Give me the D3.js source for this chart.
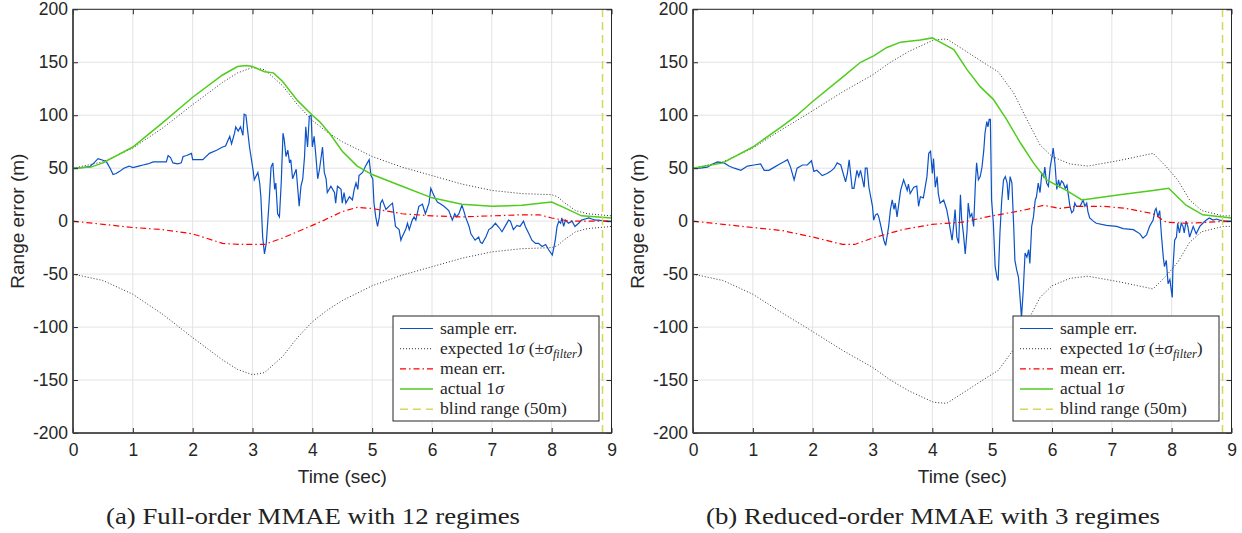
<!DOCTYPE html>
<html>
<head>
<meta charset="utf-8">
<script src="https://cdn.jsdelivr.net/npm/d3@7"></script>
<style>
body{margin:0;background:#fff;}
svg{display:block;}
</style>
</head>
<body>
<svg id="fig" width="1242" height="533"></svg>
<script>
// valeurs (temps en s, erreur en m)
var xTicks = [0,1,2,3,4,5,6,7,8,9];
var yTicks = [-200,-150,-100,-50,0,50,100,150,200];
var blindRange = 8.85;
var captions = ["(a) Full-order MMAE with 12 regimes", "(b) Reduced-order MMAE with 3 regimes"];
var legendLabels = ["sample err.", "expected", "mean err.", "actual", "blind range (50m)"];

// (a) full-order
var sampleA = [[0,50],[0.15,50.5],[0.28,51.5],[0.35,55],[0.42,59],[0.5,57.5],[0.56,56],[0.62,50],[0.67,44],[0.72,45],[0.78,47],[0.85,50],[0.94,52],[1.0,50.5],[1.1,52],[1.17,53],[1.25,54],[1.34,56],[1.45,56],[1.56,56],[1.59,62],[1.63,60],[1.67,55],[1.75,54],[1.81,55],[1.84,61],[1.9,62],[1.98,64],[2.0,58],[2.1,58],[2.17,58],[2.28,64],[2.4,67],[2.5,70],[2.55,71],[2.58,75],[2.62,80],[2.65,73],[2.7,83],[2.72,89],[2.76,85],[2.8,89],[2.84,81],[2.86,101],[2.89,100],[2.95,70],[3.01,48],[3.03,39],[3.09,46],[3.12,36],[3.14,23],[3.17,-15],[3.2,-31],[3.23,-21],[3.28,20],[3.31,51],[3.34,55],[3.37,30],[3.39,36],[3.42,7],[3.45,4],[3.48,36],[3.51,83],[3.53,77],[3.56,61],[3.59,67],[3.62,55],[3.64,58],[3.67,40],[3.73,49],[3.78,14],[3.81,33],[3.84,40],[3.87,61],[3.89,89],[3.92,70],[3.95,99],[3.98,100],[4.0,70],[4.03,80],[4.06,61],[4.09,40],[4.12,49],[4.17,70],[4.2,46],[4.23,40],[4.25,27],[4.31,33],[4.37,27],[4.39,17],[4.42,33],[4.48,30],[4.5,17],[4.53,27],[4.56,17],[4.62,23],[4.67,20],[4.7,30],[4.73,36],[4.76,30],[4.78,43],[4.84,46],[4.89,52],[4.92,55],[4.95,58],[4.98,43],[5.01,40],[5.03,17],[5.06,4],[5.09,-5],[5.12,4],[5.14,17],[5.17,20],[5.23,11],[5.28,14],[5.34,17],[5.37,4],[5.39,-5],[5.45,-8],[5.48,-18],[5.5,-15],[5.56,-8],[5.59,-2],[5.62,-8],[5.67,1],[5.7,4],[5.73,1],[5.78,14],[5.84,16],[5.89,7],[5.95,17],[5.98,31],[6.01,27],[6.05,22],[6.09,18],[6.15,16],[6.2,14],[6.28,10],[6.34,1],[6.38,7],[6.41,4],[6.45,7],[6.5,15],[6.53,10],[6.56,4],[6.62,-5],[6.65,-12],[6.72,-18],[6.78,-15],[6.81,-20],[6.84,-21],[6.9,-15],[6.95,-8],[7.0,-6],[7.06,-2],[7.12,-6],[7.17,-10],[7.23,-4],[7.28,1],[7.31,0],[7.36,-8],[7.42,-4],[7.47,-5],[7.53,0],[7.56,-5],[7.62,-12],[7.67,-18],[7.73,-21],[7.78,-21],[7.84,-24],[7.9,-22],[7.95,-27],[8.01,-32],[8.04,-24],[8.06,-18],[8.09,-5],[8.12,0],[8.15,-2],[8.17,3],[8.2,-5],[8.23,1],[8.28,-2],[8.34,0],[8.39,-5],[8.45,-2],[8.5,1],[8.56,2],[8.62,3],[8.67,2],[8.73,1],[8.78,1],[8.89,0],[9.0,0]];
var expectedA = [[0,50],[0.5,56],[1,69],[1.5,88],[2,110],[2.5,131],[2.75,140],[3,145],[3.2,143],[3.5,128],[3.75,110],[4,95],[4.25,84],[4.5,75],[5,61],[5.5,51],[6,43],[6.5,35],[7,29],[7.5,26],[8,25],[8.1,23],[8.2,18],[8.4,10],[8.6,7],[9,5]];
var meanA = [[0,0],[0.5,-3],[1,-6],[1.5,-8],[2,-12],[2.5,-21],[2.8,-22],[3.2,-22],[3.5,-16],[4,-4],[4.2,1],[4.5,9],[4.75,13],[5,12],[5.5,7],[6,5],[6.5,4],[7,5],[7.5,6],[7.8,6],[8,3],[8.3,0],[9,0]];
var actualA = [[0,50],[0.3,51],[0.5,55],[1,70],[1.5,93],[2,117],[2.5,138],[2.75,146],[2.9,147],[3.0,146],[3.2,141],[3.35,140],[3.5,132],[3.75,114],[4,100],[4.12,94],[4.3,82],[4.5,66],[4.75,52],[5,44],[5.5,33],[6,22],[6.5,16],[7,14],[7.5,15],[8,18],[8.2,13],[8.5,5],[9,3]];

// (b) reduced-order
var sampleB = [[0,50],[0.12,50],[0.24,51],[0.33,54],[0.41,56],[0.52,55],[0.6,52],[0.69,50],[0.8,48],[0.91,52],[1.02,53],[1.13,54],[1.19,48],[1.27,48],[1.36,51],[1.45,54],[1.52,56],[1.58,58],[1.63,51],[1.69,39],[1.74,50],[1.83,53],[1.91,53],[1.98,57],[2.02,47],[2.07,48],[2.16,43],[2.24,45],[2.3,47],[2.36,50],[2.41,55],[2.47,53],[2.55,37],[2.58,45],[2.61,58],[2.66,31],[2.69,31],[2.74,48],[2.77,42],[2.8,48],[2.86,32],[2.88,50],[2.91,50],[2.94,32],[3.0,14],[3.02,1],[3.05,6],[3.08,7],[3.1,5],[3.13,-2],[3.19,-18],[3.22,-23],[3.27,-5],[3.3,11],[3.33,20],[3.36,11],[3.38,17],[3.41,4],[3.47,29],[3.52,39],[3.58,29],[3.6,35],[3.63,26],[3.69,32],[3.74,33],[3.77,14],[3.8,23],[3.85,22],[3.91,42],[3.94,64],[3.97,66],[4.0,45],[4.02,59],[4.05,32],[4.08,42],[4.1,26],[4.13,17],[4.19,20],[4.24,11],[4.27,2],[4.3,-8],[4.33,-18],[4.36,-2],[4.38,11],[4.41,-15],[4.44,-21],[4.47,25],[4.49,2],[4.52,-12],[4.55,-31],[4.58,-9],[4.6,17],[4.63,4],[4.66,7],[4.69,-5],[4.72,36],[4.74,55],[4.77,39],[4.8,42],[4.83,51],[4.86,67],[4.88,83],[4.91,94],[4.93,89],[4.95,96],[4.97,96],[4.99,20],[5.02,-2],[5.05,-43],[5.08,-53],[5.1,-56],[5.13,-11],[5.16,20],[5.19,39],[5.22,42],[5.25,36],[5.27,20],[5.3,42],[5.33,36],[5.36,-5],[5.38,-37],[5.41,-46],[5.44,-53],[5.47,-75],[5.49,-91],[5.52,-65],[5.55,-30],[5.58,-34],[5.61,-27],[5.63,-40],[5.66,-5],[5.69,4],[5.72,20],[5.74,23],[5.77,36],[5.8,27],[5.83,45],[5.86,42],[5.88,51],[5.91,36],[5.94,33],[5.97,51],[6.0,61],[6.02,69],[6.05,54],[6.08,30],[6.11,39],[6.13,33],[6.16,38],[6.19,36],[6.22,31],[6.25,34],[6.3,14],[6.33,8],[6.36,10],[6.38,17],[6.41,14],[6.47,14],[6.52,20],[6.55,14],[6.58,17],[6.6,9],[6.63,3],[6.69,0],[6.74,-2],[6.91,-4],[7.08,-5],[7.19,-7],[7.36,-8],[7.47,-12],[7.52,-16],[7.58,-13],[7.63,-5],[7.69,1],[7.72,10],[7.74,12],[7.77,4],[7.8,10],[7.83,-14],[7.86,-34],[7.88,-43],[7.91,-37],[7.94,-59],[7.97,-55],[8.0,-68],[8.01,-72],[8.02,-46],[8.05,-18],[8.08,-15],[8.1,-2],[8.13,-11],[8.16,-2],[8.19,-5],[8.21,-11],[8.24,0],[8.27,-5],[8.3,-15],[8.33,-10],[8.36,-5],[8.41,-12],[8.47,-5],[8.52,-2],[8.58,1],[8.63,3],[8.69,1],[8.75,2],[8.8,1],[8.9,0],[9.0,0]];
var expectedB = [[0,50],[0.5,56],[1,69],[1.5,87],[1.88,100],[2.5,122],[3,138],[3.3,150],[3.6,160],[4.02,171],[4.24,172],[4.6,159],[4.9,148],[5.1,141],[5.36,121],[5.58,96],[5.8,72],[6,61],[6.3,54],[6.6,52],[7.1,57],[7.69,64],[7.9,52],[8.1,39],[8.3,20],[8.5,10],[8.86,5],[9,5]];
var meanB = [[0,0],[0.5,-3],[1,-6],[1.5,-9],[2,-15],[2.5,-22],[2.7,-22],[3,-16],[3.5,-8],[4,-3],[4.5,-1],[5,5],[5.5,10],[5.86,15],[6.13,12],[6.41,14],[6.86,14],[7.24,12],[7.69,7],[7.91,-1],[8.24,-2],[9,0]];
var actualB = [[0,50],[0.5,55],[1,70],[1.5,90],[1.74,100],[2,113],[2.5,136],[2.8,150],[3.02,156],[3.24,164],[3.47,169],[3.8,171],[4,173],[4.1,170],[4.36,162],[4.58,143],[4.8,127],[5.02,115],[5.24,96],[5.47,74],[5.69,55],[5.91,39],[6.24,29],[6.5,20],[7.13,25],[7.69,29],[7.95,31],[8.24,15],[8.52,6],[9,3]];

var svg = d3.select("#fig");
var sans = "Liberation Sans, Arial, Helvetica, sans-serif";
var serif = "Liberation Serif, DejaVu Serif, Times New Roman, serif";
var axisCol = "#262626";

var yScale = d3.scaleLinear().domain([-200, 200]).range([433, 9.3]);

var styles = [
	{stroke: "#0b52c8", width: 1.2, dash: null},
	{stroke: "#333", width: 1, dash: "1,2"},
	{stroke: "#ff0000", width: 1.2, dash: "6,3,1.5,3"},
	{stroke: "#4fcc1c", width: 1.5, dash: null},
	{stroke: "#d6d65a", width: 1.5, dash: "8,5"}
];

// taille de police serif ajustée pour que "blind range (50m)" fasse ~127 px
var probe = svg.append("text").attr("font-family", serif).attr("font-size", 20).text(legendLabels[4]);
var legendSize = 20 * 127 / probe.node().getComputedTextLength();
probe.remove();

function drawPanel(x0, x1, sample, expected, mean, actual, caption, capX, capW) {
	var xScale = d3.scaleLinear().domain([0, 9]).range([x0, x1]);
	var g = svg.append("g");

	// grille
	g.selectAll(".gx").data(xTicks).enter().append("line")
		.attr("x1", d => xScale(d)).attr("x2", d => xScale(d))
		.attr("y1", yScale(-200)).attr("y2", yScale(200))
		.attr("stroke", "#e3e3e3");
	g.selectAll(".gy").data(yTicks).enter().append("line")
		.attr("y1", d => yScale(d)).attr("y2", d => yScale(d))
		.attr("x1", x0).attr("x2", x1)
		.attr("stroke", "#e3e3e3");

	var line = d3.line().x(d => xScale(d[0])).y(d => yScale(d[1]));
	function curve(data, s) {
		var p = g.append("path").datum(data).attr("d", line)
			.attr("fill", "none").attr("stroke", s.stroke).attr("stroke-width", s.width);
		if (s.dash) p.attr("stroke-dasharray", s.dash);
	}
	curve(sample, styles[0]);
	curve(expected, styles[1]);
	curve(expected.map(d => [d[0], -d[1]]), styles[1]);
	curve(mean, styles[2]);
	curve(actual, styles[3]);

	g.append("line")
		.attr("x1", xScale(blindRange)).attr("x2", xScale(blindRange))
		.attr("y1", yScale(-200)).attr("y2", yScale(200))
		.attr("stroke", styles[4].stroke).attr("stroke-width", styles[4].width)
		.attr("stroke-dasharray", styles[4].dash);

	// axes, ticks vers l'intérieur
	var ax = [
		g.append("g").attr("transform", "translate(0,433)")
			.call(d3.axisBottom(xScale).tickValues(xTicks).tickSize(-5).tickPadding(11).tickFormat(d => String(d))),
		g.append("g").attr("transform", "translate(0,9.3)")
			.call(d3.axisTop(xScale).tickValues(xTicks).tickSize(-5).tickFormat("")),
		g.append("g").attr("transform", `translate(${x0},0)`)
			.call(d3.axisLeft(yScale).tickValues(yTicks).tickSize(-5).tickPadding(5).tickFormat(d => String(d))),
		g.append("g").attr("transform", `translate(${x1},0)`)
			.call(d3.axisRight(yScale).tickValues(yTicks).tickSize(-5).tickFormat(""))
	];
	ax.forEach(function(a) {
		a.select(".domain").remove();
		a.attr("color", axisCol).attr("font-family", sans).attr("font-size", 17.5);
		a.selectAll("text").attr("fill", axisCol);
	});

	g.append("rect").attr("x", x0).attr("y", yScale(200))
		.attr("width", x1 - x0).attr("height", yScale(-200) - yScale(200))
		.attr("fill", "none").attr("stroke", axisCol).attr("stroke-width", 1);
	g.append("line").attr("x1", x0).attr("x2", x0).attr("y1", yScale(200)).attr("y2", yScale(-200))
		.attr("stroke", "#444").attr("stroke-width", 1.6);
	g.append("line").attr("x1", x0).attr("x2", x1).attr("y1", yScale(-200)).attr("y2", yScale(-200))
		.attr("stroke", "#444").attr("stroke-width", 1.6);

	// libellés
	g.append("text")
		.attr("x", (x0 + x1) / 2).attr("y", 483)
		.attr("text-anchor", "middle")
		.attr("font-family", sans).attr("font-size", 19).attr("fill", axisCol)
		.text("Time (sec)");
	g.append("text")
		.attr("transform", `translate(${x0 - 49},${yScale(0)}) rotate(-90)`)
		.attr("text-anchor", "middle")
		.attr("font-family", sans).attr("font-size", 19).attr("fill", axisCol)
		.text("Range error (m)");

	// légende
	var lg = g.append("g").attr("transform", `translate(${x0 + 320},316)`);
	lg.append("rect").attr("width", 206).attr("height", 105)
		.attr("fill", "#fff").attr("stroke", axisCol).attr("stroke-width", 1);
	styles.forEach(function(s, i) {
		var yy = 12.5 + i * 20.2;
		var l = lg.append("line").attr("x1", 7).attr("x2", 40).attr("y1", yy).attr("y2", yy)
			.attr("stroke", s.stroke).attr("stroke-width", s.width);
		if (s.dash) l.attr("stroke-dasharray", s.dash);
		var t = lg.append("text").attr("x", 47).attr("y", yy + 5)
			.attr("font-family", serif).attr("font-size", legendSize).attr("fill", axisCol);
		if (i == 1) {
			t.append("tspan").text("expected 1");
			t.append("tspan").attr("font-style", "italic").text("σ");
			t.append("tspan").text(" (±");
			t.append("tspan").attr("font-style", "italic").text("σ");
			t.append("tspan").attr("font-style", "italic").attr("font-size", legendSize * 0.7).attr("dy", 4).text("filter");
			t.append("tspan").attr("dy", -4).text(")");
		} else if (i == 3) {
			t.append("tspan").text("actual 1");
			t.append("tspan").attr("font-style", "italic").text("σ");
		} else {
			t.text(legendLabels[i]);
		}
	});

	svg.append("text")
		.attr("x", capX).attr("y", 524)
		.attr("text-anchor", "middle")
		.attr("font-family", serif).attr("font-size", 24).attr("fill", "#222")
		.attr("textLength", capW).attr("lengthAdjust", "spacingAndGlyphs")
		.text(caption);
}

drawPanel(73, 611.5, sampleA, expectedA, meanA, actualA, captions[0], 313, 414);
drawPanel(693, 1231.5, sampleB, expectedB, meanB, actualB, captions[1], 933, 454);
</script>
</body>
</html>
